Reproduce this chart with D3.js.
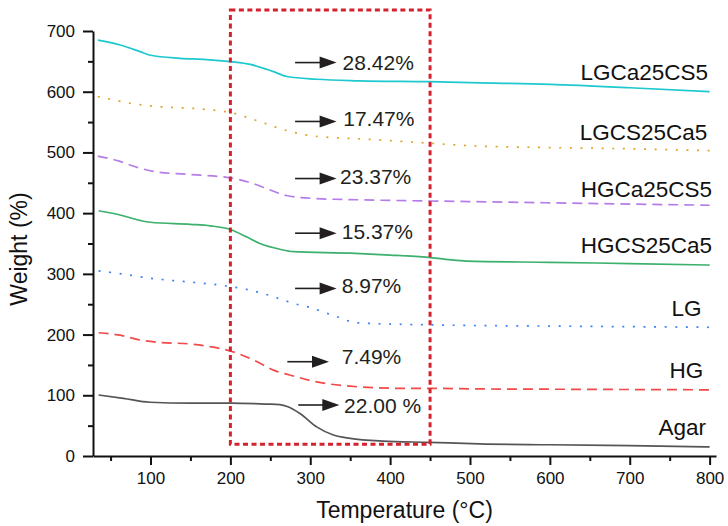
<!DOCTYPE html>
<html>
<head>
<meta charset="utf-8">
<script src="https://cdn.jsdelivr.net/npm/d3@7"></script>
<style>
  body { margin: 0; background: #fff; }
  svg text { font-family: "Liberation Sans", Arial, sans-serif; }
</style>
</head>
<body>
<svg id="chart" width="728" height="526"></svg>
<script>
// TGA curves, [temperature, weight] (already offset by 100 % per sample)
const lgca25cs5 = [[34,685],[62,677],[87,666],[100,660],[137,655],[170,653],[200,649.5],[225,645],[254,633],[271,625],[308,620.5],[362,618],[448,616.5],[500,615],[600,612],[700,606.5],[800,600]];
const lgcs25ca5 = [[34,592],[49,588],[74,581],[114,575],[154,572.5],[183,569],[200,566],[218,559],[243,548],[268,537],[296,528.5],[335,524],[360,522.5],[440,516],[500,511],[600,508],[700,506],[800,503]];
const hgca25cs5 = [[34,494],[60,486],[82,476],[107,468],[145,464],[200,458],[228,449],[250,438],[270,429],[307,424],[361,422],[450,420],[500,419],[600,417],[700,415],[800,413]];
const hgcs25ca5 = [[35,404],[62,397],[87,388],[100,385],[150,381.5],[175,379],[200,373],[220,361],[237,350],[262,340.5],[279,336.5],[350,334],[400,331],[448,327],[470,324],[496,321],[600,319],[700,317],[800,314.5]];
const lg = [[35,305],[74,298],[101,292.5],[128,289],[158,285.5],[195,280],[220,274.5],[245,266],[283,250],[296,246],[333,229.5],[358,219.5],[412,217],[450,216],[500,215],[600,214],[700,213],[800,212]];
const hg = [[35,203],[62,199],[87,191],[112,187],[150,184.5],[175,180],[200,173],[229,158],[254,141.5],[281,131],[308,122],[350,115],[412,111.5],[450,111.5],[508,110.5],[600,110],[700,109.5],[800,109]];
const agar = [[35,100.5],[66,95],[99,88.5],[150,87],[200,87],[245,85.5],[262,84.5],[272,81],[287,70],[308,48],[329,34.5],[350,29],[391,24.5],[448,22.5],[512,20],[600,18.5],[700,17],[800,15]];

const seriesNames = ['LGCa25CS5','LGCS25Ca5','HGCa25CS5','HGCS25Ca5','LG','HG','Agar'];
const nameT = [798, 797, 803, 803, 790, 792, 795.5];
const nameW = [619.3, 520.5, 427, 334, 230.6, 128.5, 34.6];

// weight-loss annotations inside the dashed box
const pctLabels = ['28.42%','17.47%','23.37%','15.37%','8.97%','7.49%','22.00 %'];
const arrowW = [648, 551, 457, 367, 276, 155.3, 84];
const arrowFromT = [281, 281, 281, 281, 281, 271.3, 285];
const arrowToT = [333, 333, 333, 333, 333, 323.5, 336.4];
const pctT = [340.5, 341.3, 337.3, 339.4, 339.4, 339.4, 342.3];
const pctW = [636, 543.6, 448.4, 358.1, 269, 151.5, 71.3];

const boxT = [200, 450];
const boxW = [19.3, 734.6];

const xTicks = d3.range(100, 801, 100);
const xMinor = d3.range(50, 801, 100);
const yTicks = d3.range(0, 701, 100);
const yMinor = d3.range(50, 700, 100);

const svg = d3.select('#chart');
const x = d3.scaleLinear().domain([28, 808]).range([93, 716]);
const y = d3.scaleLinear().domain([0, 700]).range([456, 31]);

const series = [
  { data: lgca25cs5, color: '#1ec8cf', dash: null },
  { data: lgcs25ca5, color: '#dfa52a', dash: '2,8.6' },
  { data: hgca25cs5, color: '#b57de8', dash: '10,6' },
  { data: hgcs25ca5, color: '#3cb06d', dash: null },
  { data: lg, color: '#3b82f0', dash: '2,8.6' },
  { data: hg, color: '#f24a4a', dash: '10,6' },
  { data: agar, color: '#555555', dash: null }
];

const line = d3.line()
  .x(d => x(d[0]))
  .y(d => y(d[1]))
  .curve(d3.curveMonotoneX);

svg.append('g').selectAll('path')
  .data(series)
  .join('path')
  .attr('d', d => line(d.data))
  .attr('fill', 'none')
  .attr('stroke', d => d.color)
  .attr('stroke-width', 1.7)
  .attr('stroke-dasharray', d => d.dash);

// dashed box
svg.append('rect')
  .attr('x', x(boxT[0]))
  .attr('y', y(boxW[1]))
  .attr('width', x(boxT[1]) - x(boxT[0]))
  .attr('height', y(boxW[0]) - y(boxW[1]))
  .attr('fill', 'none')
  .attr('stroke', '#d4212e')
  .attr('stroke-width', 3)
  .attr('stroke-dasharray', '5,3.5');

// axes
const xAxis = svg.append('g').attr('transform', `translate(0,${y(0)})`)
  .call(d3.axisBottom(x).tickValues(xTicks).tickSizeInner(9).tickSizeOuter(0).tickPadding(7));
svg.append('g').attr('transform', `translate(0,${y(0)})`)
  .call(d3.axisBottom(x).tickValues(xMinor).tickSize(5).tickFormat(''))
  .call(g => g.select('.domain').remove());

const yAxis = svg.append('g').attr('transform', `translate(${x(28)},0)`)
  .call(d3.axisLeft(y).tickValues(yTicks).tickSizeInner(10).tickSizeOuter(0).tickPadding(8));
svg.append('g').attr('transform', `translate(${x(28)},0)`)
  .call(d3.axisLeft(y).tickValues(yMinor).tickSize(5).tickFormat(''))
  .call(g => g.select('.domain').remove());

svg.selectAll('.domain, .tick line')
  .attr('stroke', '#111')
  .attr('stroke-width', 2);
svg.selectAll('.tick text')
  .attr('font-family', '"Liberation Sans", Arial, sans-serif')
  .attr('font-size', 17)
  .attr('fill', '#111');

// axis titles
svg.append('text')
  .attr('x', (x.range()[0] + x.range()[1]) / 2)
  .attr('y', 518)
  .attr('text-anchor', 'middle')
  .attr('font-size', 23)
  .attr('fill', '#111')
  .text('Temperature (°C)');

svg.append('text')
  .attr('transform', 'translate(27,249) rotate(-90)')
  .attr('text-anchor', 'middle')
  .attr('font-size', 23)
  .attr('fill', '#111')
  .text('Weight (%)');

// sample names at right end of each curve
svg.append('g').selectAll('text')
  .data(seriesNames)
  .join('text')
  .attr('x', (d, i) => x(nameT[i]))
  .attr('y', (d, i) => y(nameW[i]))
  .attr('text-anchor', 'end')
  .attr('font-size', 22.5)
  .attr('fill', '#111')
  .text(d => d);

// arrows + percentages
const ann = svg.append('g');
pctLabels.forEach((lab, i) => {
  const ay = y(arrowW[i]);
  const x0 = x(arrowFromT[i]);
  const x1 = x(arrowToT[i]);
  ann.append('line')
    .attr('x1', x0).attr('x2', x1 - 12)
    .attr('y1', ay).attr('y2', ay)
    .attr('stroke', '#231f20')
    .attr('stroke-width', 1.6);
  ann.append('path')
    .attr('d', `M${x1},${ay}L${x1 - 17},${ay - 6}L${x1 - 17},${ay + 6}Z`)
    .attr('fill', '#231f20');
  ann.append('text')
    .attr('x', x(pctT[i]))
    .attr('y', y(pctW[i]))
    .attr('font-family', 'Lato, "Open Sans", sans-serif')
    .attr('font-size', 21)
    .attr('fill', '#231f20')
    .text(lab);
});
</script>
</body>
</html>
